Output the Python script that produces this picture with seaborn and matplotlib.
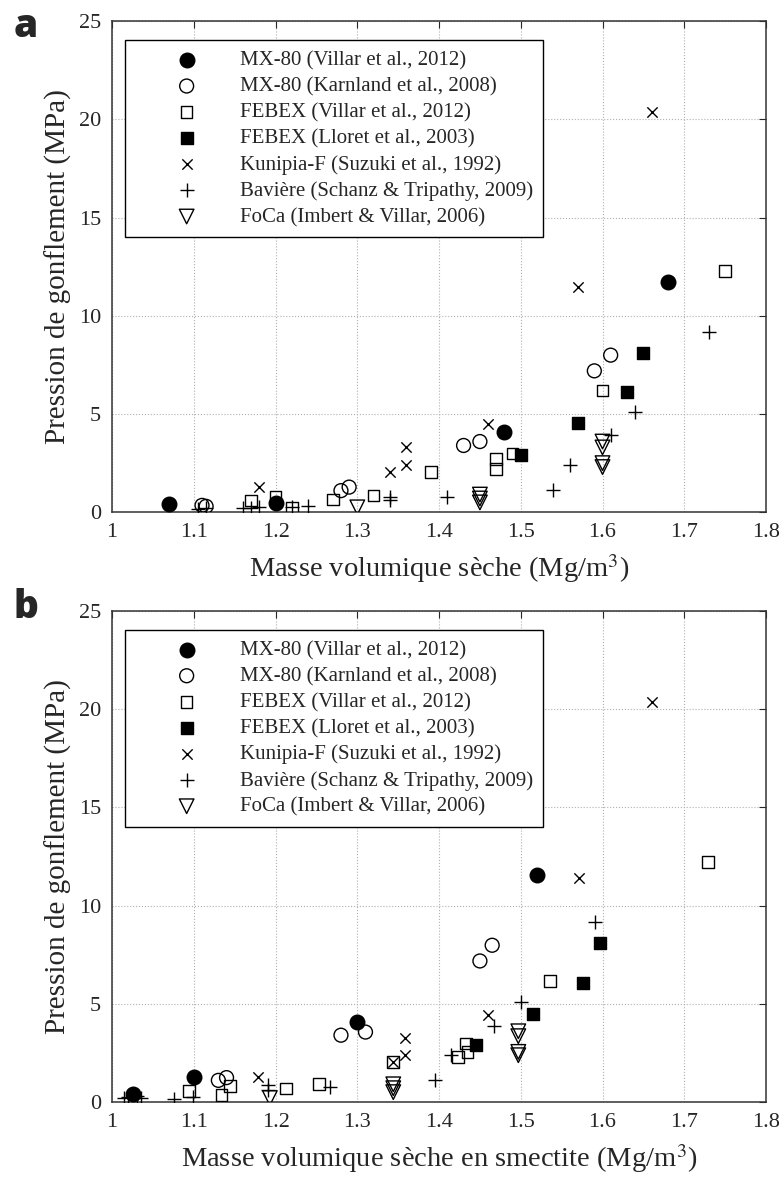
import numpy as np
import pandas as pd
import seaborn as sns
import matplotlib.pyplot as plt

sns.set_style("white")
plt.rcParams['font.family'] = ['Liberation Serif', 'DejaVu Serif']
plt.rcParams['mathtext.fontset'] = 'stix'

# ---- données : (a) masse volumique sèche ----
labels = ["MX-80 (Villar et al., 2012)",
          "MX-80 (Karnland et al., 2008)",
          "FEBEX (Villar et al., 2012)",
          "FEBEX (Lloret et al., 2003)",
          "Kunipia-F (Suzuki et al., 1992)",
          "Bavière (Schanz & Tripathy, 2009)",
          "FoCa (Imbert & Villar, 2006)"]

mx80_v_x = [1.07, 1.20, 1.48, 1.68]
mx80_v_y = [0.40, 0.45, 4.10, 11.70]
mx80_k_x = [1.11, 1.115, 1.28, 1.29, 1.43, 1.45, 1.59, 1.61]
mx80_k_y = [0.35, 0.30, 1.10, 1.28, 3.40, 3.60, 7.20, 8.00]
febex_v_x = [1.17, 1.20, 1.22, 1.27, 1.32, 1.39, 1.47, 1.47, 1.49, 1.60, 1.75]
febex_v_y = [0.60, 0.80, 0.25, 0.65, 0.85, 2.05, 2.20, 2.70, 3.00, 6.20, 12.30]
febex_l_x = [1.50, 1.57, 1.63, 1.65]
febex_l_y = [2.90, 4.55, 6.10, 8.10]
kuni_x = [1.18, 1.34, 1.36, 1.36, 1.46, 1.57, 1.66]
kuni_y = [1.30, 2.05, 2.40, 3.30, 4.50, 11.45, 20.40]
bav_x = [1.105, 1.115, 1.16, 1.17, 1.18, 1.22, 1.24, 1.34, 1.34, 1.41, 1.54, 1.56, 1.61, 1.64, 1.73]
bav_y = [0.15, 0.20, 0.20, 0.20, 0.25, 0.26, 0.30, 0.60, 0.80, 0.80, 1.15, 2.40, 3.95, 5.10, 9.20]
foca_x = [1.30, 1.45, 1.45, 1.45, 1.60, 1.60, 1.60, 1.60]
foca_y = [0.25, 0.50, 0.70, 0.90, 2.30, 2.50, 3.30, 3.60]

# ---- données : (b) masse volumique sèche en smectite ----
mx80_v_xs = [1.025, 1.10, 1.30, 1.52]
mx80_v_ys = [0.42, 1.27, 4.07, 11.55]
mx80_k_xs = [1.13, 1.14, 1.28, 1.31, 1.45, 1.465]
mx80_k_ys = [1.10, 1.24, 3.40, 3.56, 7.18, 7.98]
febex_v_xs = [1.094, 1.134, 1.144, 1.213, 1.253, 1.344, 1.423, 1.435, 1.433, 1.536, 1.729]
febex_v_ys = [0.56, 0.34, 0.80, 0.68, 0.90, 2.03, 2.29, 2.54, 2.97, 6.16, 12.23]
febex_l_xs = [1.445, 1.515, 1.576, 1.597]
febex_l_ys = [2.88, 4.50, 6.06, 8.07]
kuni_xs = [1.178, 1.344, 1.358, 1.358, 1.46, 1.571, 1.661]
kuni_ys = [1.27, 2.03, 2.37, 3.25, 4.45, 11.43, 20.38]
bav_xs = [1.015, 1.02, 1.03, 1.035, 1.076, 1.099, 1.191, 1.191, 1.266, 1.395, 1.415, 1.467, 1.50, 1.591]
bav_ys = [0.18, 0.25, 0.30, 0.22, 0.17, 0.25, 0.60, 0.85, 0.76, 1.14, 2.37, 3.85, 5.09, 9.17]
foca_xs = [1.193, 1.344, 1.344, 1.344, 1.497, 1.497, 1.497, 1.497]
foca_ys = [0.20, 0.50, 0.70, 0.90, 2.38, 2.55, 3.35, 3.60]

panel_a = [(mx80_v_x, mx80_v_y), (mx80_k_x, mx80_k_y), (febex_v_x, febex_v_y),
           (febex_l_x, febex_l_y), (kuni_x, kuni_y), (bav_x, bav_y), (foca_x, foca_y)]
panel_b = [(mx80_v_xs, mx80_v_ys), (mx80_k_xs, mx80_k_ys), (febex_v_xs, febex_v_ys),
           (febex_l_xs, febex_l_ys), (kuni_xs, kuni_ys), (bav_xs, bav_ys), (foca_xs, foca_ys)]

# marker, face, taille
styles = [('o', 'k', 110), ('o', 'none', 100), ('s', 'none', 70), ('s', 'k', 70),
          ('x', 'k', 55), ('+', 'k', 110), ('v', 'none', 110)]


def draw(ax, series, xlabel):
    for (xs, ys), lab, (m, fc, s) in zip(series, labels, styles):
        df = pd.DataFrame({'x': xs, 'y': ys})
        if m in ('x', '+'):
            sns.scatterplot(data=df, x='x', y='y', marker=m, color='k', s=s,
                            linewidth=1.0, label=lab, ax=ax, zorder=3)
        else:
            sns.scatterplot(data=df, x='x', y='y', marker=m, facecolor=fc,
                            edgecolor='k', s=s, linewidth=1.0, label=lab, ax=ax, zorder=3)
    ax.set_xlim(1, 1.8)
    ax.set_ylim(0, 25)
    ax.set_xticks(np.arange(1, 1.81, 0.1))
    ax.set_xticklabels(['1', '1.1', '1.2', '1.3', '1.4', '1.5', '1.6', '1.7', '1.8'])
    ax.set_yticks([0, 5, 10, 15, 20, 25])
    ax.grid(True, linestyle=':', color='#b0b0b0', linewidth=0.8)
    ax.set_axisbelow(True)
    ax.tick_params(direction='in', length=5, width=0.8, top=True, right=True,
                   labelsize=16, pad=8)
    for sp in ax.spines.values():
        sp.set_color('#333333')
        sp.set_linewidth(1.1)
    ax.set_xlabel(xlabel, fontsize=20.5, labelpad=7)
    ax.set_ylabel('Pression de gonflement (MPa)', fontsize=21, labelpad=5)
    leg = ax.legend(loc='upper left', bbox_to_anchor=(0.02, 0.961), borderaxespad=0,
                    fontsize=15, frameon=True, fancybox=False, edgecolor='k',
                    framealpha=1, labelspacing=0.31, handletextpad=0.1,
                    borderpad=0.5, handlelength=4.9)
    leg.get_frame().set_linewidth(1.0)


fig = plt.figure(figsize=(7.84, 11.83), dpi=100)
ax1 = fig.add_axes([0.143, 0.567, 0.834, 0.415])
ax2 = fig.add_axes([0.143, 0.0685, 0.834, 0.415])

draw(ax1, panel_a, 'Masse volumique sèche (Mg/m$^3$)')
draw(ax2, panel_b, 'Masse volumique sèche en smectite (Mg/m$^3$)')

fig.text(0.017, 0.994, 'a', fontsize=28, fontweight='heavy', family='Open Sans', va='top')
fig.text(0.017, 0.503, 'b', fontsize=28, fontweight='heavy', family='Open Sans', va='top')

fig.savefig('out.png', dpi=100)
